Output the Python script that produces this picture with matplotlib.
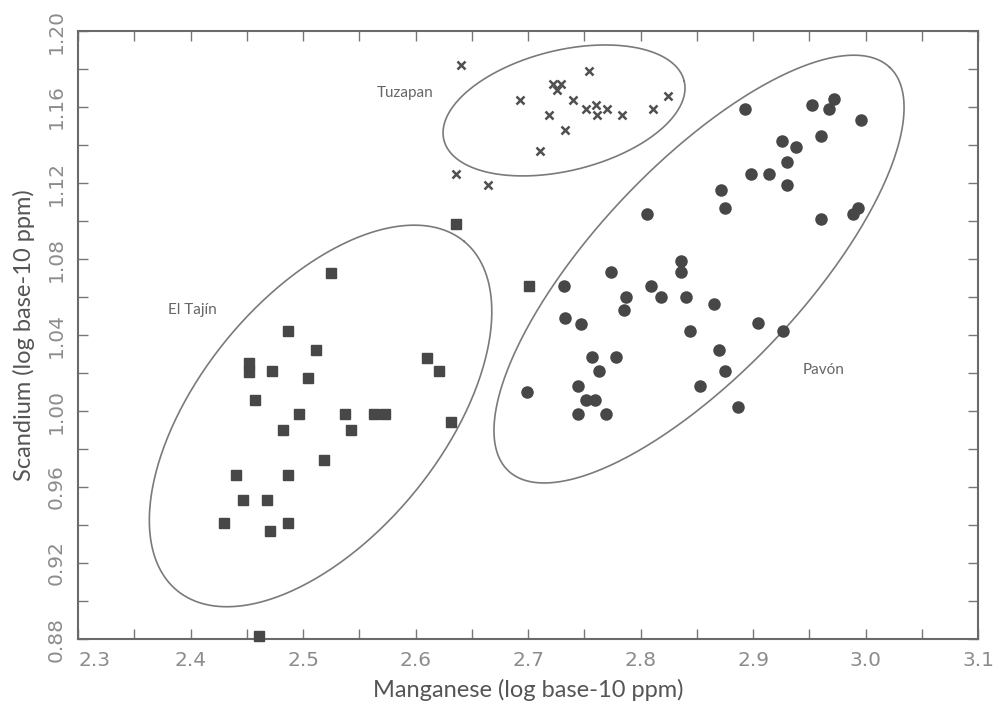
import numpy as np
import matplotlib
matplotlib.use("Agg")
import matplotlib.pyplot as plt
from matplotlib.ticker import MultipleLocator

# ---------------- data ----------------
# El Tajín (squares)
tajin_mn = [2.525, 2.487, 2.5116, 2.4517, 2.4517, 2.4727, 2.5047, 2.4576, 2.4967, 2.5376,
            2.5631, 2.5729, 2.4825, 2.5429, 2.6102, 2.6209, 2.6318, 2.5189, 2.4404, 2.4867,
            2.4467, 2.4677, 2.4301, 2.4867, 2.4710, 2.4612, 2.636, 2.7012]
tajin_sc = [1.0728, 1.0421, 1.0321, 1.0251, 1.0207, 1.0211, 1.0172, 1.0060, 0.9983, 0.9983,
            0.9983, 0.9983, 0.9902, 0.9902, 1.0281, 1.0211, 0.9941, 0.9742, 0.9662, 0.9662,
            0.9532, 0.9532, 0.9411, 0.9411, 0.9370, 0.8816, 1.0983, 1.0658]

# Tuzapan (crosses)
tuza_mn = [2.6407, 2.7539, 2.7219, 2.7296, 2.7255, 2.6929, 2.7400, 2.8247, 2.7602, 2.7516,
           2.7699, 2.7610, 2.7189, 2.7836, 2.8108, 2.7326, 2.7109, 2.6360, 2.6647]
tuza_sc = [1.1819, 1.1789, 1.1719, 1.1719, 1.1689, 1.1638, 1.1638, 1.1660, 1.1612, 1.1589,
           1.1589, 1.1558, 1.1560, 1.1560, 1.1589, 1.1479, 1.1370, 1.1249, 1.1189]

# Pavón (circles)
pavon_mn = [2.8926, 2.9527, 2.9723, 2.9678, 2.9960, 2.9607, 2.9258, 2.9382, 2.9299, 2.8980,
            2.9139, 2.9299, 2.8718, 2.8751, 2.8055, 2.9607, 2.9930, 2.9892, 2.8360, 2.8360,
            2.7740, 2.7320, 2.8093, 2.7868, 2.8180, 2.8401, 2.7850, 2.8650, 2.7332, 2.7471,
            2.9044, 2.9267, 2.8437, 2.8695, 2.7566, 2.7782, 2.7634, 2.8751, 2.7441, 2.8529,
            2.6994, 2.7516, 2.7593, 2.7447, 2.7696, 2.8870]
pavon_sc = [1.1589, 1.1611, 1.1640, 1.1589, 1.1530, 1.1449, 1.1419, 1.1389, 1.1311, 1.1249,
            1.1249, 1.1188, 1.1162, 1.1070, 1.1038, 1.1009, 1.1070, 1.1038, 1.0789, 1.0730,
            1.0730, 1.0658, 1.0658, 1.0598, 1.0598, 1.0598, 1.0532, 1.0562, 1.0491, 1.0460,
            1.0462, 1.0423, 1.0423, 1.0323, 1.0283, 1.0283, 1.0211, 1.0211, 1.0133, 1.0133,
            1.0102, 1.0058, 1.0058, 0.9983, 0.9983, 1.0023]

group_names = ["El Tajín", "Tuzapan", "Pavón"]
x_ticks = [2.3, 2.4, 2.5, 2.6, 2.7, 2.8, 2.9, 3.0, 3.1]
y_ticks = [0.88, 0.92, 0.96, 1.00, 1.04, 1.08, 1.12, 1.16, 1.20]

# ---------------- figure ----------------
W, H, DPI = 9.99, 7.10, 100
fig = plt.figure(figsize=(W, H), dpi=DPI)
L, R, B, T = 0.0781, 0.979, 0.100, 0.9563
ax = fig.add_axes([L, B, R - L, T - B])
xmin, xmax, ymin, ymax = 2.3, 3.1, 0.88, 1.20
ax.set_xlim(xmin, xmax)
ax.set_ylim(ymin, ymax)

mk_col = "#474747"
ax.plot(tajin_mn, tajin_sc, ls="none", marker="s", ms=7, color=mk_col, mec=mk_col, clip_on=False, zorder=3)
ax.plot(pavon_mn, pavon_sc, ls="none", marker="o", ms=8, color=mk_col, mec=mk_col, zorder=3)
ax.plot(tuza_mn, tuza_sc, ls="none", marker="x", ms=5.5, mew=1.8, color="#505050", zorder=3)

# ellipses (drawn in screen-proportional space)
sx = (R - L) * W * DPI / (xmax - xmin)
sy = (T - B) * H * DPI / (ymax - ymin)

def ellipse(cx, cy, a, b, ang):
    t = np.linspace(0, 2 * np.pi, 400)
    th = np.deg2rad(ang)
    u = a * np.cos(th) * np.cos(t) - b * np.sin(th) * np.sin(t)
    v = a * np.sin(th) * np.cos(t) + b * np.cos(th) * np.sin(t)
    ax.plot(cx + u / sx, cy + v / sy, color="#7a7a7a", lw=1.2, zorder=2)

ellipse(2.5156, 0.9974, 226, 121, 50.6)
ellipse(2.7320, 1.1582, 123.7, 60.2, 13.8)
ellipse(2.8520, 1.0747, 277.6, 103.6, 46.6)

lab_kw = dict(fontsize=11, color="#666666", family="Lato", ha="center", va="center")
ax.text(2.3 + (192 - 78) / sx, 1.20 - (310 - 31) / sy, group_names[0], **lab_kw)
ax.text(2.3 + (405 - 78) / sx, 1.20 - (93 - 31) / sy, group_names[1], **lab_kw)
ax.text(2.3 + (824 - 78) / sx, 1.20 - (370 - 31) / sy, group_names[2], **lab_kw)

# ticks
ax.set_xticks(x_ticks)
ax.set_xticklabels([f"{v:.1f}" for v in x_ticks])
ax.xaxis.set_minor_locator(MultipleLocator(0.05))
ax.set_yticks(y_ticks)
ax.set_yticklabels([f"{v:.2f}" for v in y_ticks], rotation=90, va="center")
ax.yaxis.set_minor_locator(MultipleLocator(0.02))
for which in ("major", "minor"):
    ax.tick_params(axis="both", which=which, direction="in", length=7, width=1.0,
                   color="#777777", top=True, right=True)
ax.tick_params(axis="x", which="major", labelsize=14.5, labelcolor="#8c8c8c", pad=9)
ax.tick_params(axis="y", which="major", labelsize=14.5, labelcolor="#8c8c8c", pad=9)
xl = ax.get_xticklabels()
xl[0].set_horizontalalignment("left")

for sp in ax.spines.values():
    sp.set_color("#6a6a6a")
    sp.set_linewidth(1.5)

ax.set_xlabel("Manganese (log base-10 ppm)", fontsize=17, color="#555555", family="Lato", labelpad=6)
ax.set_ylabel("Scandium (log base-10 ppm)", fontsize=17, color="#555555", family="Lato", labelpad=8)

fig.savefig("out.png", dpi=DPI)
